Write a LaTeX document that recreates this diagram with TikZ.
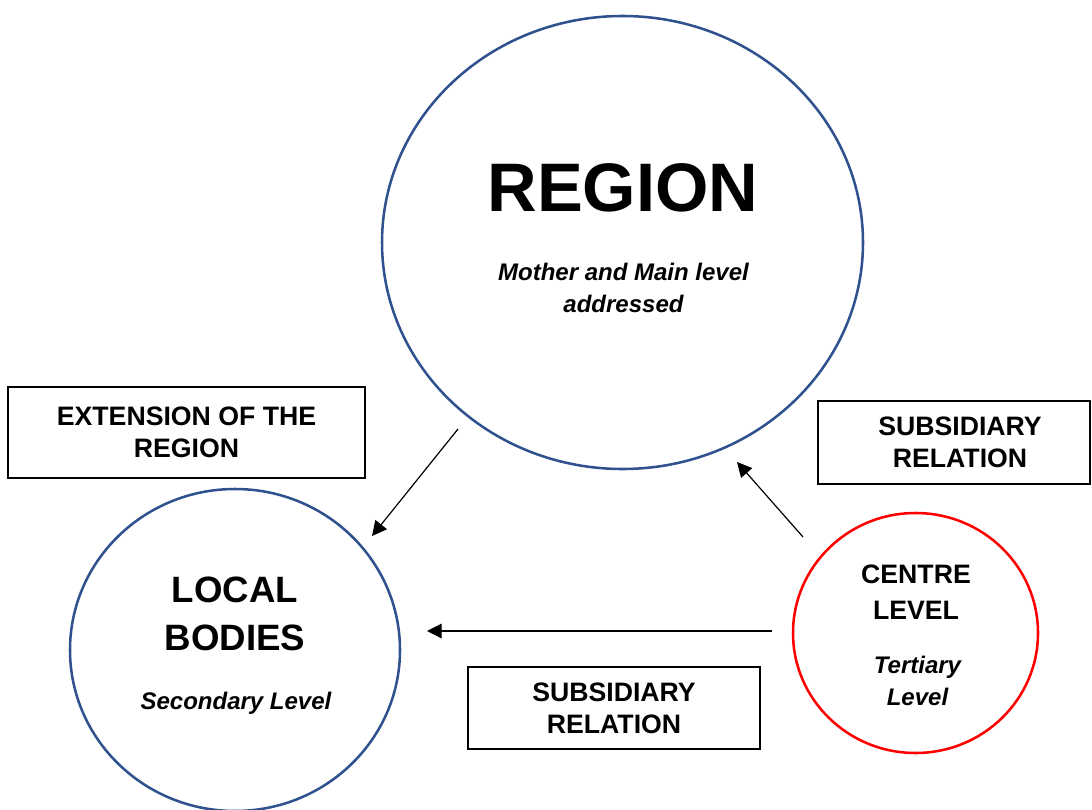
\documentclass[tikz,border=0pt]{standalone}
\usepackage{fontspec}
\setmainfont{Liberation Sans}
\usetikzlibrary{arrows.meta}
\usetikzlibrary{positioning}
\usetikzlibrary{shapes.geometric}
\definecolor{ringblue}{RGB}{47,82,143}

\begin{document}
\begin{tikzpicture}[x=0.75pt, y=-0.75pt,
    level/.style={ellipse, draw=ringblue, line width=1.9pt, inner sep=0pt},
    relbox/.style={rectangle, draw=black, line width=1.1pt, align=center,
      font=\fontsize{20}{24}\selectfont\bfseries},
    heading/.style={anchor=base, align=center, inner sep=0pt},
    sub/.style={anchor=base, align=center, inner sep=0pt,
      font=\fontsize{18}{23.5}\selectfont\bfseries\itshape},
    arrow/.style={line width=0.9pt, -{Triangle[length=11pt,width=11pt]}}]

  \useasboundingbox (0,0) rectangle (1092,810);

  \node[level, minimum width=360.75pt, minimum height=339.75pt] (region) at (622.5,242.5) {};
  \node[level, minimum width=247.5pt, minimum height=241.5pt] (local) at (235,650) {};
  \node[level, draw=red, minimum width=183.75pt, minimum height=180pt] (centre) at (915.5,633) {};

  \node[heading, font=\fontsize{51.5}{60}\selectfont\bfseries] (regiontitle) at (623,211) {REGION};
  \node[sub] (regionsub) at (623.5,312) {Mother and Main level\\addressed};
  \node[heading, font=\fontsize{27.5}{36}\selectfont\bfseries] (localtitle) at (235,650) {LOCAL\\BODIES};
  \node[sub] (localsub) at (236,709) {Secondary Level};
  \node[heading, font=\fontsize{20}{27}\selectfont\bfseries] (centretitle) at (916,619) {CENTRE\\LEVEL};
  \node[sub, font=\fontsize{18}{24}\selectfont\bfseries\itshape] (centresub) at (917.5,705) {Tertiary\\Level};

  \node[relbox, minimum width=267.75pt, minimum height=68.25pt] (extbox) at (186.5,432.5) {EXTENSION OF THE\\REGION};
  \node[relbox, minimum width=204pt, minimum height=62.25pt] (subbox1) at (954,442.5) {\hspace*{9pt}SUBSIDIARY\\\hspace*{9pt}RELATION};
  \node[relbox, minimum width=219pt, minimum height=61.5pt] (subbox2) at (614,708) {SUBSIDIARY\\RELATION};

  \coordinate (extfrom) at (458,429);
  \coordinate (extto) at (372,536);
  \coordinate (upfrom) at (803,537);
  \coordinate (upto) at (737,462);
  \coordinate (leftfrom) at (772,631);
  \coordinate (leftto) at (427,631);

  \draw[arrow] (extfrom) -- (extto);
  \draw[arrow] (upfrom) -- (upto);
  \draw[arrow] (leftfrom) -- (leftto);
\end{tikzpicture}
\end{document}
